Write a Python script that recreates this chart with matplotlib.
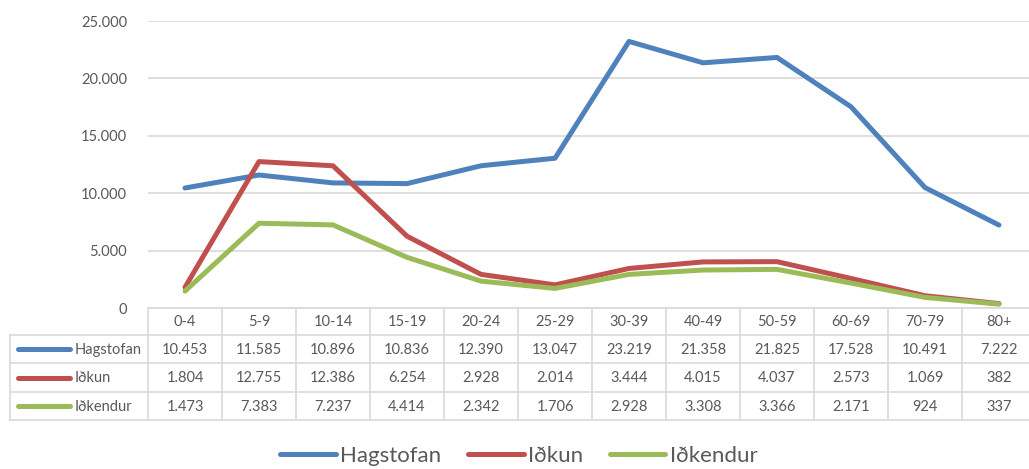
import numpy as np
import matplotlib
matplotlib.use("Agg")
import matplotlib.pyplot as plt
import matplotlib.transforms as mtransforms
from matplotlib.ticker import FuncFormatter

# data
categories = ["0-4", "5-9", "10-14", "15-19", "20-24", "25-29", "30-39",
              "40-49", "50-59", "60-69", "70-79", "80+"]
hagstofan = [10453, 11585, 10896, 10836, 12390, 13047, 23219, 21358, 21825, 17528, 10491, 7222]
idkun = [1804, 12755, 12386, 6254, 2928, 2014, 3444, 4015, 4037, 2573, 1069, 382]
idkendur = [1473, 7383, 7237, 4414, 2342, 1706, 2928, 3308, 3366, 2171, 924, 337]

series_names = ["Hagstofan", "Iðkun", "Iðkendur"]
series_vals = [hagstofan, idkun, idkendur]
series_cols = ["#4F81BD", "#C0504D", "#9BBB59"]

TXT = "#595959"
GRID = "#D9D9D9"
W, H = 1029, 469

plt.rcParams['font.family'] = ['Lato', 'DejaVu Sans']

def thou(v):
    return f"{int(v):,}".replace(",", ".")

fig = plt.figure(figsize=(W / 100, H / 100), dpi=100)
# plot area in pixels: left 148, right 1036, top 21, bottom 308
ax = fig.add_axes([148 / W, 1 - 308 / H, (1036 - 148) / W, (308 - 21) / H])

x = np.arange(len(categories))
for name, vals, col in zip(series_names, series_vals, series_cols):
    ax.plot(x, vals, color=col, lw=3.6, solid_capstyle='round', solid_joinstyle='round',
            label=name, zorder=3)

ax.set_xlim(-0.5, len(categories) - 0.5)
ax.set_ylim(0, 25000)
ax.set_yticks(np.arange(0, 25001, 5000))
ax.yaxis.set_major_formatter(FuncFormatter(lambda v, p: thou(v)))
ax.tick_params(axis='y', length=0, pad=15, labelsize=10.5, labelcolor=TXT)
ax.set_xticks([])
ax.grid(axis='y', color=GRID, lw=1.2, zorder=0)
for s in ["top", "right", "left"]:
    ax.spines[s].set_visible(False)
ax.spines["bottom"].set_color(GRID)
ax.spines["bottom"].set_linewidth(1.2)

# data table below the plot
fpx = lambda py: 1 - py / H
tr = mtransforms.blended_transform_factory(ax.transData, fig.transFigure)
row_edges = [308, 335, 363, 392, 420]
lw_tab = 1.2

# horizontal lines across the value columns
for py in row_edges[1:]:
    ax.plot([-0.5, len(categories) - 0.5], [fpx(py)] * 2, color=GRID, lw=lw_tab,
            transform=tr, clip_on=False)
# vertical lines between columns
for xe in np.arange(-0.5, len(categories) + 0.5, 1.0):
    ax.plot([xe, xe], [fpx(308), fpx(420)], color=GRID, lw=lw_tab,
            transform=tr, clip_on=False)

# header labels
for i, c in enumerate(categories):
    ax.text(i, fpx((row_edges[0] + row_edges[1]) / 2 + 1), c, transform=tr,
            ha='center', va='center', fontsize=10.5, color=TXT)

# values
for r, vals in enumerate(series_vals):
    yc = fpx((row_edges[r + 1] + row_edges[r + 2]) / 2 + 1)
    for i, v in enumerate(vals):
        ax.text(i, yc, thou(v), transform=tr, ha='center', va='center',
                fontsize=10.5, color=TXT)

# series label column (pixels)
for py in row_edges[1:]:
    fig.add_artist(plt.Line2D([10 / W, 148 / W], [fpx(py)] * 2, color=GRID, lw=lw_tab))
fig.add_artist(plt.Line2D([10 / W, 10 / W], [fpx(335), fpx(420)], color=GRID, lw=lw_tab))
for r, (name, col) in enumerate(zip(series_names, series_cols)):
    yc = fpx((row_edges[r + 1] + row_edges[r + 2]) / 2)
    fig.add_artist(plt.Line2D([18 / W, 70 / W], [yc, yc], color=col, lw=3.6,
                              solid_capstyle='round'))
    fig.text(75 / W, fpx((row_edges[r + 1] + row_edges[r + 2]) / 2 + 1), name,
             ha='left', va='center', fontsize=10.5, color=TXT)

# legend at bottom
leg = fig.legend(loc='center', bbox_to_anchor=(519 / W, fpx(456)), ncol=3, frameon=False,
                 fontsize=16, handlelength=2.5, handletextpad=0.2, columnspacing=1.2,
                 labelcolor=TXT, borderpad=0)

fig.savefig("out.png", dpi=100)
